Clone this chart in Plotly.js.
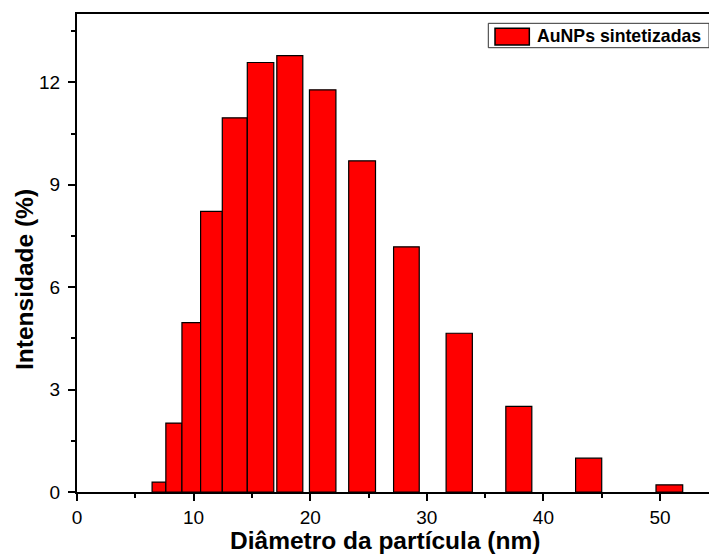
<!DOCTYPE html>
<html>
<head>
<meta charset="utf-8">
<script src="https://cdn.plot.ly/plotly-3.0.1.min.js"></script>
<style>html,body{margin:0;padding:0;background:#fff;}#chart{width:709px;height:558px;}</style>
</head>
<body>
<div id="chart"></div>
<script>
// Bin centres (nm), bin widths (nm) and intensities (%)
const binCenter = [7.03, 8.31, 9.80, 11.53, 13.53, 15.74, 18.25, 21.07, 24.45, 28.25, 32.78, 37.89, 43.88, 50.80];
const binWidth  = [1.18, 1.38, 1.60, 1.86, 2.14, 2.27, 2.23, 2.27, 2.30, 2.20, 2.25, 2.23, 2.24, 2.29];
const intensity = [0.29, 2.02, 4.96, 8.22, 10.96, 12.58, 12.78, 11.78, 9.70, 7.18, 4.65, 2.51, 0.99, 0.21];
const seriesName = 'AuNPs sintetizadas';
const xTitle = 'Diâmetro da partícula (nm)';
const yTitle = 'Intensidade (%)';

const FONT = 'Liberation Sans, Arial, sans-serif';

const trace = {
  type: 'bar',
  x: binCenter,
  y: intensity,
  width: binWidth,
  name: seriesName,
  showlegend: false,
  marker: {color: '#ff0000', line: {color: '#000000', width: 1.2}}
};

const layout = {
  width: 709, height: 558,
  margin: {l: 77, r: 0, t: 14, b: 66, pad: 0},
  paper_bgcolor: '#ffffff', plot_bgcolor: '#ffffff',
  font: {family: FONT, color: '#000000'},
  showlegend: false,
  bargap: 0,
  xaxis: {
    range: [0, 54.2], autorange: false,
    showline: true, linecolor: '#000', linewidth: 2, mirror: true,
    showgrid: false, zeroline: false,
    ticks: 'outside', ticklen: 7, tickwidth: 2, tickcolor: '#000',
    dtick: 10, tick0: 0,
    minor: {dtick: 5, ticks: 'outside', ticklen: 4, tickwidth: 2, tickcolor: '#000', showgrid: false},
    tickfont: {family: FONT, size: 19, color: '#000'},
    automargin: false
  },
  yaxis: {
    range: [0, 14], autorange: false,
    showline: true, linecolor: '#000', linewidth: 2, mirror: false,
    showgrid: false, zeroline: false,
    ticks: 'outside', ticklen: 7, tickwidth: 2, tickcolor: '#000',
    dtick: 3, tick0: 0,
    minor: {dtick: 1.5, ticks: 'outside', ticklen: 4, tickwidth: 2, tickcolor: '#000', showgrid: false},
    tickfont: {family: FONT, size: 19, color: '#000'},
    ticklabelstandoff: 4,
    automargin: false
  },
  shapes: [
    {type: 'rect', xref: 'paper', yref: 'paper', x0: 0.6508, x1: 1.0, y0: 0.9295, y1: 0.9805,
     line: {color: '#333', width: 1}, fillcolor: '#ffffff', layer: 'above'},
    {type: 'rect', xref: 'paper', yref: 'paper', x0: 0.6614, x1: 0.7157, y0: 0.9351, y1: 0.9701,
     line: {color: '#000', width: 1.5}, fillcolor: '#ff0000', layer: 'above'}
  ],
  annotations: [
    {xref: 'paper', yref: 'paper', x: 0.7247, y: 0.954, xanchor: 'left', yanchor: 'middle',
     text: seriesName, showarrow: false,
     font: {family: FONT, size: 17.7, weight: 'bold', color: '#000'}},
    {xref: 'paper', yref: 'paper', x: 0.487, y: -0.1025, xanchor: 'center', yanchor: 'middle',
     text: xTitle, showarrow: false,
     font: {family: FONT, size: 24.5, weight: 'bold', color: '#000'}},
    {xref: 'paper', yref: 'paper', x: -0.0839, y: 0.4456, xanchor: 'center', yanchor: 'middle',
     text: yTitle, showarrow: false, textangle: -90,
     font: {family: FONT, size: 24.5, weight: 'bold', color: '#000'}}
  ]
};

Plotly.newPlot('chart', [trace], layout, {displayModeBar: false, staticPlot: true});
</script>
</body>
</html>
